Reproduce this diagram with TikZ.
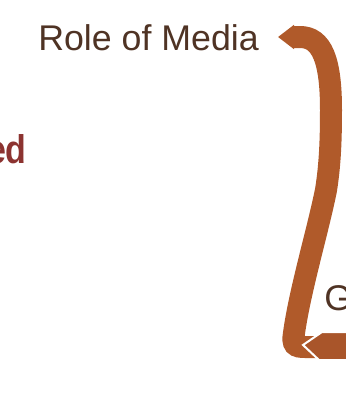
\documentclass[tikz,border=0pt]{standalone}
\usepackage{fontspec}
\setmainfont{Liberation Sans}
\newfontfamily\narrowsans[FakeStretch=0.85]{Liberation Sans}
\usetikzlibrary{arrows.meta}

\definecolor{bandbrown}{HTML}{B05A2A}
\definecolor{tipbrown}{HTML}{A9552A}
\definecolor{textbrown}{HTML}{4F3324}
\definecolor{titlered}{HTML}{8C3330}

\tikzset{
    label/.style={inner sep=0pt, text=textbrown, font=\fontsize{26.8pt}{30pt}\selectfont},
    title/.style={inner sep=0pt, text=titlered, font=\fontsize{30pt}{34pt}\narrowsans\bfseries},
    band/.style={line width=16.5pt, draw=bandbrown, -{Triangle[length=12pt, width=17.5pt]}}
}

\begin{document}
\begin{tikzpicture}[x=0.75pt, y=-0.75pt]
            \clip (0,0) rectangle (346,393);

            \node (media) at (38,50) [label, anchor=base west] {Role of Media};
            \node (ed) at (27,163) [title, anchor=base east] {ed};
            \node (g) at (324,310) [label, anchor=base west] {G};

            \coordinate (from) at (360,347);
            \coordinate (to) at (278,37);
            \coordinate (tipb) at (303,345);

            \draw[band] (from) -- (305,347) .. controls (295,347) and (292,345) .. (294,333)
                .. controls (300,290) and (318,230) .. (326,190)
                .. controls (330,165) and (331,140) .. (331,110)
                .. controls (331,60) and (322,37) .. (300,37) -- (to);

            \filldraw[fill=tipbrown, draw=white, line width=1.5pt, line join=miter] (tipb) -- (322,332)
                -- (360,332) -- (360,360) -- (319,360) -- cycle;
        \end{tikzpicture}
\end{document}
